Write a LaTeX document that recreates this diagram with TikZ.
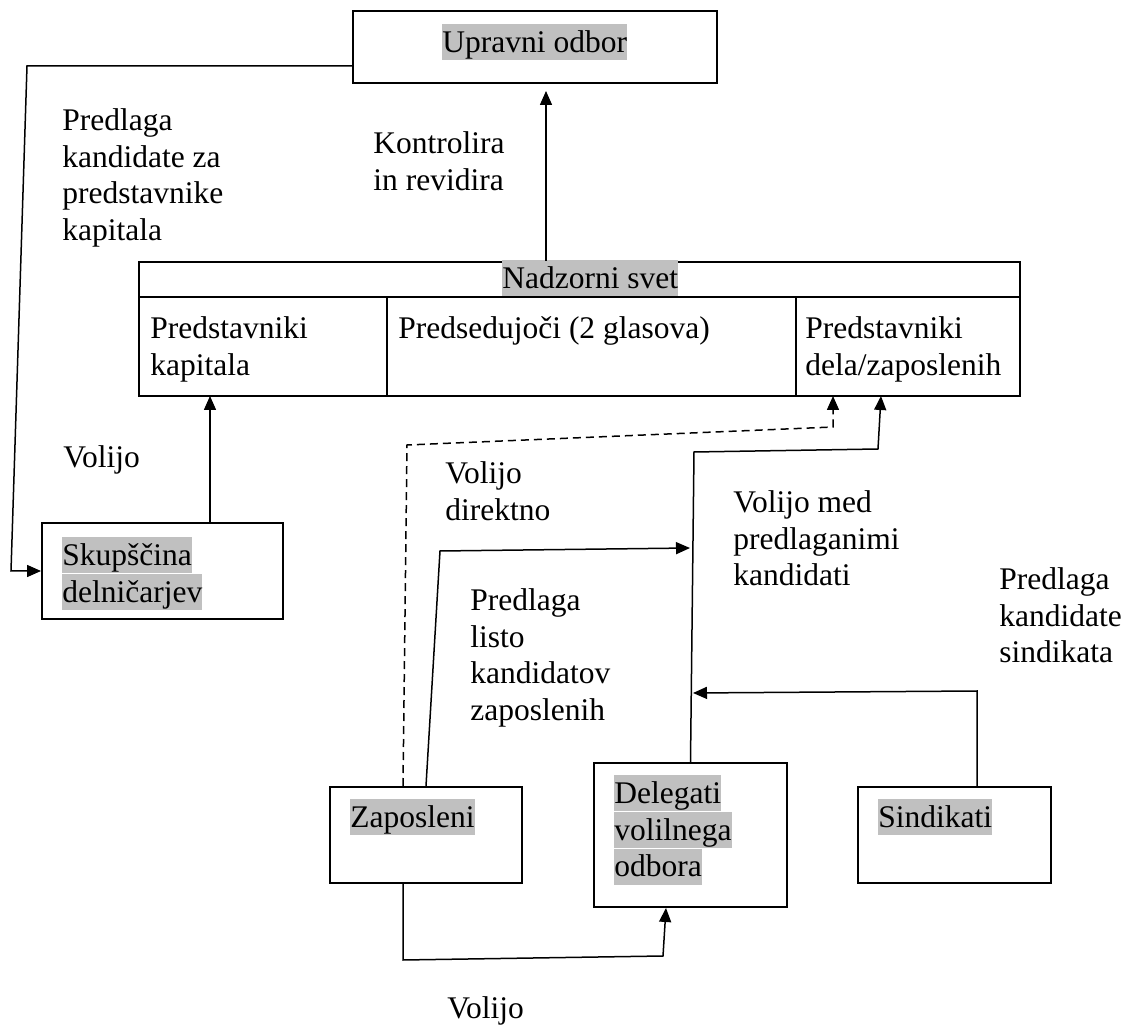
\documentclass[tikz,border=0pt]{standalone}
\usepackage{fontspec}
\setmainfont{Liberation Serif}
\usetikzlibrary{arrows.meta}
\definecolor{hlgray}{HTML}{C0C0C0}
\newcommand{\lblstrut}{\rule{0pt}{14pt}}
\newcommand{\hl}[1]{{\setlength{\fboxsep}{0pt}\colorbox{hlgray}{\rule[-4pt]{0pt}{18pt}#1}}}
\begin{document}
\begin{tikzpicture}[x=0.5pt, y=-0.5pt,
		every node/.style={font=\fontsize{15.75pt}{18.35pt}\selectfont},
		box/.style={draw, line width=1pt, inner sep=0pt},
		lbl/.style={anchor=north west, inner sep=0pt, align=left},
		arr/.style={line width=0.75pt, -{Triangle[length=7pt,width=6pt]}}]
		\useasboundingbox (0,0) rectangle (1126,1026);
		% boxes
		\node[box, minimum width=182pt, minimum height=36pt] (upravni) at (535,47) {};
		\node[box, minimum width=440.5pt, minimum height=67pt] (nadzor) at (579.5,329) {};
		\draw[line width=1pt] (139,297) -- (1020,297);
		\draw[line width=1pt] (387,297) -- (387,396);
		\draw[line width=1pt] (796,297) -- (796,396);
		\node[box, minimum width=120.5pt, minimum height=48pt] (skup) at (162.5,571) {};
		\node[box, minimum width=96pt, minimum height=48pt] (zap) at (426,835) {};
		\node[box, minimum width=96.5pt, minimum height=72pt] (del) at (690.5,835) {};
		\node[box, minimum width=96.5pt, minimum height=48pt] (sind) at (954.5,835) {};
		% texts in boxes
		\node[lbl] (tupravni) at (442,24) {\hl{Upravni odbor}};
		\node[lbl] (tnadzor) at (502,260) {\hl{Nadzorni svet}};
		\node[lbl] (tkap) at (150,310) {\lblstrut Predstavniki\\kapitala};
		\node[lbl] (tpred) at (398,310) {\lblstrut Predsedujoči (2 glasova)};
		\node[lbl] (tdela) at (805,310) {\lblstrut Predstavniki\\dela/zaposlenih};
		\node[lbl] (tskup) at (62,537) {\hl{Skupščina}\\\hl{delničarjev}};
		\node[lbl] (tzap) at (350,799) {\hl{Zaposleni}};
		\node[lbl] (tdel) at (614,775) {\hl{Delegati}\\\hl{volilnega}\\\hl{odbora}};
		\node[lbl] (tsind) at (878,799) {\hl{Sindikati}};
		% labels
		\node[lbl] (lpredlaga) at (62,102) {\lblstrut Predlaga\\kandidate za\\predstavnike\\kapitala};
		\node[lbl] (lkontr) at (373,125) {\lblstrut Kontrolira\\in revidira};
		\node[lbl] (lvolijo) at (63,439) {\lblstrut Volijo};
		\node[lbl] (ldirekt) at (445,455) {\lblstrut Volijo\\direktno};
		\node[lbl] (lmed) at (733,484) {\lblstrut Volijo med\\predlaganimi\\kandidati};
		\node[lbl] (lsind) at (999,561) {\lblstrut Predlaga\\kandidate\\sindikata};
		\node[lbl] (llisto) at (470,582) {\lblstrut Predlaga\\listo\\kandidatov\\zaposlenih};
		\node[lbl] (lvolbot) at (447,990) {\lblstrut Volijo};
		% connectors
		\coordinate (c1) at (27,66);
		\coordinate (c2) at (11,571);
		\draw[arr] (upravni.west |- c1) -- (c1) -- (c2) -- (skup.west);
		\coordinate (kt) at (546,91);
		\draw[arr] (nadzor.north -| kt) -- (kt);
		\coordinate (kap) at (210,396);
		\draw[arr] (skup.north -| kap) -- (kap);
		\coordinate (d1) at (407,445);
		\coordinate (d2) at (833,427);
		\coordinate (d3) at (833,396);
		\draw[arr, dash pattern=on 4pt off 2.5pt] ([xshift=-11.5pt]zap.north) -- (d1) -- (d2) -- (d3);
		\coordinate (e1) at (440,551);
		\coordinate (e2) at (690,548);
		\draw[arr] (zap.north) -- (e1) -- (e2);
		\coordinate (f1) at (694,452);
		\coordinate (f2) at (878,449);
		\coordinate (f3) at (881,396);
		\draw[arr] (del.north) -- (f1) -- (f2) -- (f3);
		\coordinate (g1) at (977,691);
		\coordinate (g2) at (693,693);
		\draw[arr] (sind.north -| g1) -- (g1) -- (g2);
		\coordinate (h1) at (403,960);
		\coordinate (h2) at (663,956);
		\draw[arr] ([xshift=-11.5pt]zap.south) -- (h1) -- (h2) -- ([xshift=-12.25pt]del.south);
\end{tikzpicture}
\end{document}
